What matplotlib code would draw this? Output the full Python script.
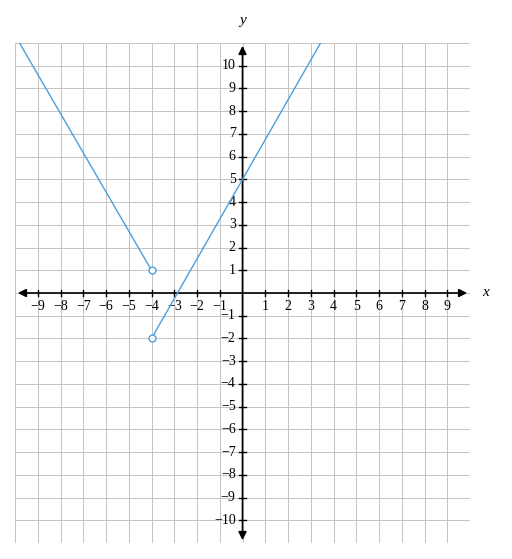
import matplotlib
matplotlib.use("Agg")
import matplotlib.pyplot as plt

# piecewise function pieces
left_x = [-9.8, -4]
left_y = [11, 1]
right_x = [-4, 3.43]
right_y = [-2, 11]
open_pts_x = [-4, -4]
open_pts_y = [1, -2]

x_ticks = [t for t in range(-9, 10) if t != 0]
y_ticks = [t for t in range(-10, 11) if t != 0]

line_color = "#4a9fdc"
font = "Liberation Serif"

fig = plt.figure(figsize=(5.12, 5.59), dpi=100)
ax = fig.add_axes([15 / 512, 16 / 559, 455 / 512, 500 / 559])
ax.set_xlim(-10, 10)
ax.set_ylim(-11, 11)
ax.axis("off")

# grid
for gx in range(-10, 11):
    ax.plot([gx, gx], [-11, 11], color="#c4c4c4", lw=0.7, zorder=0)
for gy in range(-11, 12):
    ax.plot([-10, 10], [gy, gy], color="#c4c4c4", lw=0.7, zorder=0)

# axes with arrows
ax.annotate("", xy=(10, 0), xytext=(-10, 0),
            arrowprops=dict(arrowstyle="<|-|>", color="black", lw=1.2, mutation_scale=12))
ax.annotate("", xy=(0, 11), xytext=(0, -11),
            arrowprops=dict(arrowstyle="<|-|>", color="black", lw=1.2, mutation_scale=12))

for t in x_ticks:
    ax.plot([t, t], [-0.15, 0.15], color="black", lw=1)
    ax.text(t, -0.3, "\u2212%d" % -t if t < 0 else str(t), ha="center", va="top",
            fontsize=10, family=font)
for t in y_ticks:
    ax.plot([-0.15, 0.15], [t, t], color="black", lw=1)
    ax.text(-0.3, t, "\u2212%d" % -t if t < 0 else str(t), ha="right", va="center",
            fontsize=10, family=font)

ax.text(10.7, 0, "x", ha="center", va="center", fontsize=11, family=font,
        style="italic", clip_on=False)
ax.text(0, 12, "y", ha="center", va="center", fontsize=11, family=font,
        style="italic", clip_on=False)

ax.plot(left_x, left_y, color=line_color, lw=1, zorder=3)
ax.plot(right_x, right_y, color=line_color, lw=1, zorder=3)
ax.scatter(open_pts_x, open_pts_y, s=25, facecolor="white", edgecolor=line_color,
           lw=1, zorder=4)

fig.savefig("out.png", dpi=100)
